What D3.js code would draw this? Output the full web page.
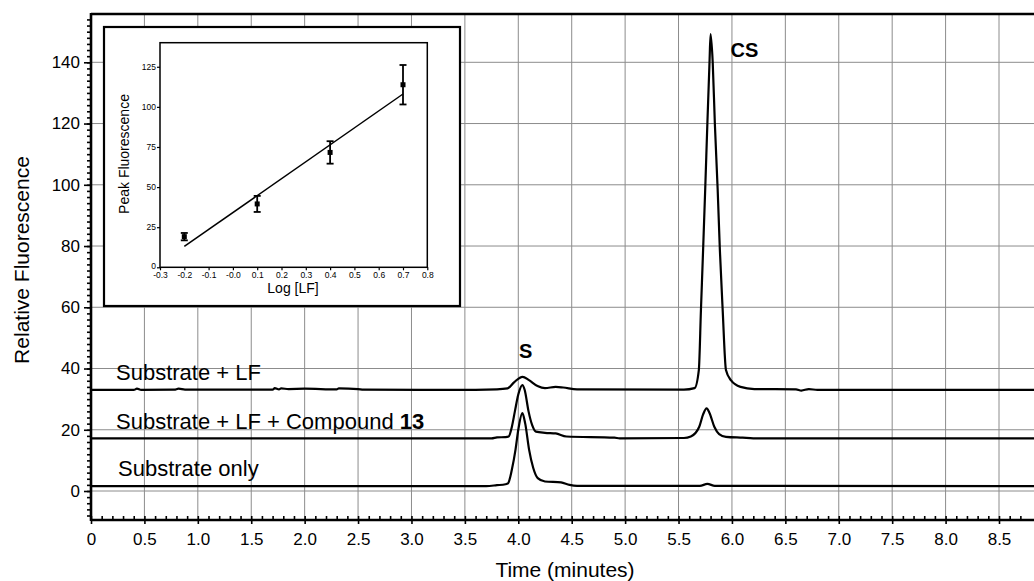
<!DOCTYPE html>
<html>
<head>
<meta charset="utf-8">
<script src="https://cdn.jsdelivr.net/npm/d3@7"></script>
<style>
  body { margin: 0; background: #fff; }
  svg { display: block; }
</style>
</head>
<body>
<div id="chart"></div>
<script>
// ---- main chromatogram data: [time (min), relative fluorescence] ----
const traceSubstrateLF = [
  [0, 33.0], [0.40, 33.0], [0.43, 33.4], [0.47, 33.0], [0.78, 33.1], [0.82, 33.4], [0.88, 33.1],
  [1.70, 33.1], [1.72, 33.6], [1.76, 33.2], [1.78, 33.5], [1.85, 33.3], [2.00, 33.4], [2.30, 33.2],
  [2.32, 33.5], [2.50, 33.3], [2.55, 33.1], [3.40, 33.0], [3.80, 33.2], [3.90, 33.5], [3.96, 35.5],
  [4.04, 37.3], [4.10, 36.2], [4.18, 34.3], [4.25, 33.6], [4.35, 34.0], [4.42, 33.8], [4.55, 33.2],
  [5.55, 33.1], [5.65, 33.6], [5.69, 39.5], [5.71, 59.3], [5.73, 78.7], [5.75, 98.8], [5.77, 120],
  [5.79, 140], [5.80, 149.2], [5.82, 140], [5.84, 120], [5.866, 98.8], [5.887, 78.7], [5.913, 59.3],
  [5.944, 39.5], [5.99, 36.2], [6.08, 34.0], [6.21, 33.3], [6.60, 33.2], [6.65, 32.8], [6.72, 33.3],
  [6.80, 33.0], [9.0, 33.0]
];
const traceSubstrateLFCmpd = [
  [0, 17.2], [3.75, 17.2], [3.80, 17.5], [3.88, 17.6], [3.91, 17.8], [3.94, 21], [3.968, 26],
  [4.00, 31.5], [4.038, 34.6], [4.06, 33.0], [4.096, 26], [4.13, 21.5], [4.165, 19.4], [4.25, 19.0],
  [4.35, 18.8], [4.45, 17.8], [4.90, 17.4], [4.95, 17.2], [5.55, 17.3], [5.615, 17.8], [5.694, 21],
  [5.73, 25], [5.763, 27.0], [5.79, 25.5], [5.835, 21], [5.88, 18.6], [5.944, 17.7], [6.10, 17.4],
  [6.20, 17.2], [9.0, 17.2]
];
const traceSubstrateOnly = [
  [0, 1.6], [3.70, 1.6], [3.80, 1.9], [3.88, 2.2], [3.904, 2.5], [3.94, 7], [3.974, 13.5],
  [4.00, 20], [4.038, 25.4], [4.065, 22], [4.101, 13.5], [4.14, 7.5], [4.182, 4.2], [4.25, 3.1],
  [4.40, 2.8], [4.48, 2.0], [4.55, 1.7], [5.70, 1.7], [5.77, 2.3], [5.84, 1.7], [9.0, 1.6]
];
const seriesLabels = ["Substrate + LF", "Substrate + LF + Compound ", "Substrate only"];
const xTickValues = [0, 0.5, 1.0, 1.5, 2.0, 2.5, 3.0, 3.5, 4.0, 4.5, 5.0, 5.5, 6.0, 6.5, 7.0, 7.5, 8.0, 8.5];
const yTickValues = [0, 20, 40, 60, 80, 100, 120, 140];
const peakLabels = [{ text: "S", t: 4.04, v: 37.3 }, { text: "CS", t: 5.80, v: 149.2 }];

// ---- inset data ----
const insetLogLF = [-0.2, 0.1, 0.4, 0.7];
const insetPeak = [19.1, 39.5, 71.6, 113.8];
const insetErr = [2.3, 5.0, 7.0, 12.3];
const insetFit = { slope: 105.6, intercept: 34.1 };
const insetXTicks = [-0.3, -0.2, -0.1, 0.0, 0.1, 0.2, 0.3, 0.4, 0.5, 0.6, 0.7, 0.8];
const insetYTicks = [0, 25, 50, 75, 100, 125];

const width = 1034, height = 581;
const font = "'Liberation Sans', Arial, Helvetica, sans-serif";

const svg = d3.select("#chart").append("svg")
  .attr("width", width).attr("height", height)
  .attr("viewBox", `0 0 ${width} ${height}`)
  .style("font-family", font);

const plot = { left: 91, right: width, top: 14, bottom: 520 };
const x = d3.scaleLinear().domain([0, 8.5]).range([91, 999]);
const y = d3.scaleLinear().domain([0, 140]).range([491, 62.3]);

// grid
const grid = svg.append("g").attr("stroke", "#8c8c8c").attr("stroke-width", 1);
xTickValues.filter(d => d > 0).forEach(d => {
  grid.append("line").attr("x1", x(d)).attr("x2", x(d))
    .attr("y1", plot.top).attr("y2", plot.bottom);
});
yTickValues.forEach(d => {
  grid.append("line").attr("x1", plot.left).attr("x2", plot.right)
    .attr("y1", y(d)).attr("y2", y(d));
});

// traces
const line = d3.line().x(d => x(d[0])).y(d => y(d[1])).curve(d3.curveMonotoneX);
svg.append("clipPath").attr("id", "plotclip").append("rect")
  .attr("x", plot.left).attr("y", plot.top).attr("width", plot.right - plot.left).attr("height", plot.bottom - plot.top);
[traceSubstrateLF, traceSubstrateLFCmpd, traceSubstrateOnly].forEach(tr => {
  svg.append("path").datum(tr)
    .attr("clip-path", "url(#plotclip)")
    .attr("fill", "none").attr("stroke", "#000").attr("stroke-width", 2.2)
    .attr("stroke-linejoin", "round")
    .attr("d", line);
});

// series labels
const labelPos = [[116, 380], [116, 429], [118, 476]];
seriesLabels.forEach((s, i) => {
  const t = svg.append("text").attr("x", labelPos[i][0]).attr("y", labelPos[i][1])
    .attr("font-size", 22).attr("fill", "#000").text(s);
  if (i === 1) t.append("tspan").attr("font-weight", "bold").text("13");
});

// peak labels
svg.append("text").attr("x", x(peakLabels[0].t) + 3).attr("y", 358)
  .attr("text-anchor", "middle").attr("font-size", 20).attr("font-weight", "bold").text(peakLabels[0].text);
svg.append("text").attr("x", x(peakLabels[1].t) + 20).attr("y", 57)
  .attr("font-size", 20).attr("font-weight", "bold").text(peakLabels[1].text);

// axes
const yMinor = svg.append("g").attr("transform", `translate(${plot.left},0)`)
  .call(d3.axisLeft(y).tickValues(d3.range(-8, 156, 2)).tickSize(4).tickFormat(""));
const yMajor = svg.append("g").attr("transform", `translate(${plot.left},0)`)
  .call(d3.axisLeft(y).tickValues(yTickValues).tickSize(7).tickPadding(4));
yMajor.selectAll("text").attr("font-size", 17).attr("font-family", font).attr("fill", "#000");

const xMinor = svg.append("g").attr("transform", `translate(0,${plot.bottom})`)
  .call(d3.axisTop(x).tickValues(d3.range(0, 88).map(i => i / 10)).tickSize(4).tickFormat(""));
const xMajor = svg.append("g").attr("transform", `translate(0,${plot.bottom})`)
  .call(d3.axisBottom(x).tickValues(xTickValues).tickSize(4).tickPadding(9)
    .tickFormat(d => d === 0 ? "0" : d3.format(".1f")(d)));
xMajor.selectAll("text").attr("font-size", 17).attr("font-family", font).attr("fill", "#000");
[yMinor, yMajor, xMinor, xMajor].forEach(g => {
  g.select(".domain").remove();
  g.selectAll("line").attr("stroke", "#000").attr("stroke-width", 1.6);
});

// frame lines
svg.append("line").attr("x1", plot.left).attr("x2", plot.left).attr("y1", plot.top - 1).attr("y2", plot.bottom + 1)
  .attr("stroke", "#000").attr("stroke-width", 2.6);
svg.append("line").attr("x1", plot.left).attr("x2", plot.right).attr("y1", plot.bottom).attr("y2", plot.bottom)
  .attr("stroke", "#000").attr("stroke-width", 2.6);
svg.append("line").attr("x1", plot.left).attr("x2", plot.right).attr("y1", plot.top).attr("y2", plot.top)
  .attr("stroke", "#000").attr("stroke-width", 2.6);

// axis titles
svg.append("text").attr("x", 565).attr("y", 577).attr("text-anchor", "middle")
  .attr("font-size", 21).text("Time (minutes)");
svg.append("text").attr("transform", "translate(29,260) rotate(-90)").attr("text-anchor", "middle")
  .attr("font-size", 21).text("Relative Fluorescence");

// ---- inset ----
svg.append("rect").attr("x", 104).attr("y", 27).attr("width", 356).attr("height", 279)
  .attr("fill", "#fff").attr("stroke", "#000").attr("stroke-width", 2.2);

const ix = d3.scaleLinear().domain([-0.3, 0.8]).range([160, 427.3]);
const iy = d3.scaleLinear().domain([0, 140]).range([267.3, 42.7]);
const inset = svg.append("g");
inset.append("rect").attr("x", ix(-0.3)).attr("y", iy(140))
  .attr("width", ix(0.8) - ix(-0.3)).attr("height", iy(0) - iy(140))
  .attr("fill", "none").attr("stroke", "#000").attr("stroke-width", 1.5);

const iyAxis = inset.append("g").attr("transform", `translate(${ix(-0.3)},0)`)
  .call(d3.axisLeft(iy).tickValues(insetYTicks).tickSize(3).tickPadding(1));
const ixAxis = inset.append("g").attr("transform", `translate(0,${iy(0)})`)
  .call(d3.axisBottom(ix).tickValues(insetXTicks).tickSize(3).tickPadding(2)
    .tickFormat(d => Math.abs(d) < 1e-9 ? "-0.0" : d3.format(".1f")(d).replace("−", "-")));
[iyAxis, ixAxis].forEach(g => {
  g.select(".domain").remove();
  g.selectAll("line").attr("stroke", "#000").attr("stroke-width", 1.2);
  g.selectAll("text").attr("font-size", 8.5).attr("font-family", font).attr("fill", "#000");
});
// lift the "0" label a little so it clears the x tick labels
iyAxis.selectAll(".tick").filter(d => d === 0).select("text").attr("dy", "0.1em");

inset.append("line")
  .attr("x1", ix(-0.2)).attr("y1", iy(insetFit.intercept + insetFit.slope * -0.2))
  .attr("x2", ix(0.7)).attr("y2", iy(insetFit.intercept + insetFit.slope * 0.7))
  .attr("stroke", "#000").attr("stroke-width", 1.5);

insetLogLF.forEach((lx, i) => {
  const cx = ix(lx), lo = iy(insetPeak[i] - insetErr[i]), hi = iy(insetPeak[i] + insetErr[i]);
  inset.append("line").attr("x1", cx).attr("x2", cx).attr("y1", lo).attr("y2", hi)
    .attr("stroke", "#000").attr("stroke-width", 1.8);
  [lo, hi].forEach(yy => inset.append("line").attr("x1", cx - 3.5).attr("x2", cx + 3.5)
    .attr("y1", yy).attr("y2", yy).attr("stroke", "#000").attr("stroke-width", 1.8));
  inset.append("rect").attr("x", cx - 2.5).attr("y", iy(insetPeak[i]) - 2.5)
    .attr("width", 5).attr("height", 5).attr("fill", "#000");
});

inset.append("text").attr("x", 293).attr("y", 293).attr("text-anchor", "middle")
  .attr("font-size", 14).text("Log [LF]");
inset.append("text").attr("transform", "translate(129,154) rotate(-90)").attr("text-anchor", "middle")
  .attr("font-size", 14).text("Peak Fluorescence");
</script>
</body>
</html>
